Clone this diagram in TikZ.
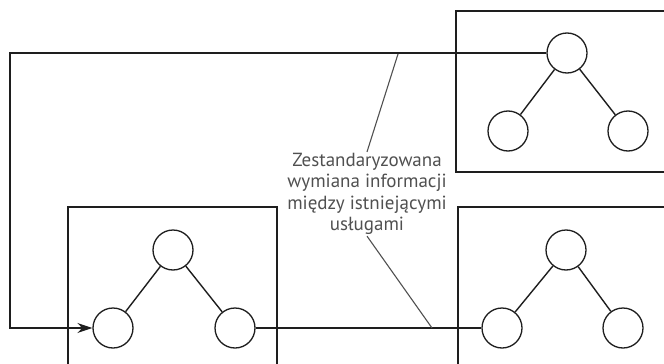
\documentclass[tikz,border=0pt]{standalone}
\usepackage{fontspec}
\setmainfont{PT Sans}
\usetikzlibrary{arrows.meta}
\definecolor{ink}{RGB}{30,30,30}
\definecolor{note}{RGB}{80,80,80}
\tikzstyle{service}=[draw=ink, line width=1.3pt, circle, minimum size=40pt, inner sep=0pt]
\tikzstyle{system}=[draw=ink, line width=1.5pt]
\tikzstyle{link}=[draw=ink, line width=1.4pt]
\tikzstyle{flow}=[draw=ink, line width=1.5pt, -{Stealth[length=15pt,width=10pt]}]
\tikzstyle{callout}=[draw=note, line width=1.1pt]

\begin{document}
\begin{tikzpicture}[x=1pt, y=-1pt]
\clip (0,0) rectangle (664,364);

% system A (top right)
\draw [system] (456,11) rectangle (690,172);
\node[service] (a0) at (567,53) {};
\node[service] (a1) at (508,131) {};
\node[service] (a2) at (628,131) {};
\draw [link] (a0) -- (a1);
\draw [link] (a0) -- (a2);

% system B (bottom left)
\draw [system] (68,207) rectangle (277,390);
\node[service] (b0) at (173,250) {};
\node[service] (b1) at (113,328) {};
\node[service] (b2) at (235,328) {};
\draw [link] (b0) -- (b1);
\draw [link] (b0) -- (b2);

% system C (bottom right)
\draw [system] (458,207) rectangle (690,390);
\node[service] (c0) at (566,250) {};
\node[service] (c1) at (502,328) {};
\node[service] (c2) at (623,328) {};
\draw [link] (c0) -- (c1);
\draw [link] (c0) -- (c2);

% exchange between systems
\coordinate (loop) at (10,190);
\draw [flow] (a0.west) -| (loop) |- (b1.west);
\draw [link] (b2.east) -- (c1.west);

% note
\node [align=center, text=note, font=\fontsize{19}{21.5}\selectfont, inner sep=1pt] (info) at (367,194)
  {Zestandaryzowana\\wymiana informacji\\między istniejącymi\\usługami};
\coordinate (upper) at (398,54);
\coordinate (lower) at (432,328);
\draw [callout] (upper) -- (info.north);
\draw [callout] (info.south) -- (lower);
\end{tikzpicture}
\end{document}
